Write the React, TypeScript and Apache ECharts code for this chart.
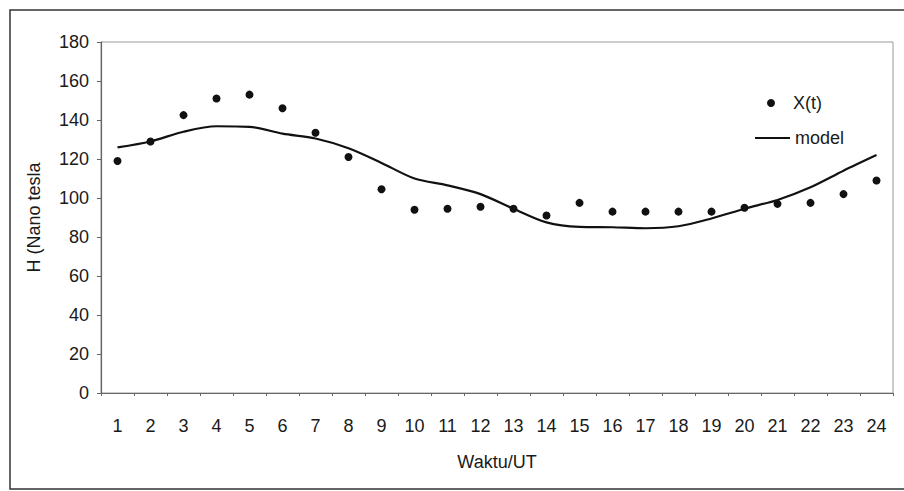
import React, { useEffect, useRef } from "react";
import * as echarts from "echarts";

const hours = ["1","2","3","4","5","6","7","8","9","10","11","12","13","14","15","16","17","18","19","20","21","22","23","24"];
const observed = [119, 129, 142.5, 151, 153, 146, 133.5, 121, 104.5, 94, 94.5, 95.5, 94.5, 91, 97.5, 93, 93, 93, 93, 95, 97, 97.5, 102, 109];
const model = [126, 129, 134, 136.8, 136.5, 133, 130.5, 125.5, 118, 110, 106.5, 102, 94.5, 87.5, 85.2, 85, 84.5, 85.5, 89.5, 94.5, 99, 105.5, 114, 122];

const FONT = "'Liberation Sans', Arial, sans-serif";
const TXT = "#1a1a1a";

export default function App() {
  const ref = useRef<HTMLDivElement>(null);
  useEffect(() => {
    if (!ref.current) return;
    const chart = echarts.init(ref.current, null, { renderer: "svg" });
    chart.setOption({
      animation: false,
      backgroundColor: "#ffffff",
      textStyle: { fontFamily: FONT, color: TXT },
      graphic: [
        {
          type: "rect",
          shape: { x: 10, y: 10, width: 905, height: 479 },
          style: { fill: "none", stroke: "#333", lineWidth: 1.5 },
          silent: true,
        },
      ],
      grid: {
        left: 101,
        right: 11,
        top: 42,
        bottom: 98,
        show: true,
        borderColor: "#9a9a9a",
        borderWidth: 1,
        backgroundColor: "transparent",
      },
      legend: [
        {
          data: [{ name: "X(t)", icon: "circle" }],
          left: 762,
          top: 89,
          itemWidth: 8,
          itemHeight: 8,
          itemGap: 5,
          textStyle: { fontSize: 18, color: TXT, fontFamily: FONT, padding: [0, 0, 0, 13] },
        },
        {
          data: [{ name: "model", icon: "rect" }],
          left: 750,
          top: 124,
          itemWidth: 35,
          itemHeight: 2,
          itemGap: 5,
          textStyle: { fontSize: 18, color: TXT, fontFamily: FONT },
        },
      ],
      xAxis: {
        type: "category",
        data: hours,
        boundaryGap: true,
        name: "Waktu/UT",
        nameLocation: "middle",
        nameGap: 60,
        nameTextStyle: { fontSize: 18, color: TXT, fontFamily: FONT },
        axisLine: { lineStyle: { color: "#666", width: 1.2 } },
        axisTick: { show: true, length: 3, lineStyle: { color: "#666" } },
        axisLabel: { fontSize: 18, color: TXT, margin: 24, fontFamily: FONT },
        splitLine: { show: false },
      },
      yAxis: {
        type: "value",
        min: 0,
        max: 180,
        interval: 20,
        name: "H (Nano tesla",
        nameLocation: "middle",
        nameGap: 58,
        nameTextStyle: { fontSize: 18, color: TXT, fontFamily: FONT },
        axisLine: { show: true, lineStyle: { color: "#666", width: 1.2 } },
        axisTick: { show: true, length: 4, lineStyle: { color: "#666" } },
        axisLabel: { fontSize: 18, color: TXT, margin: 12, fontFamily: FONT },
        splitLine: { show: false },
      },
      series: [
        {
          name: "X(t)",
          type: "scatter",
          data: observed,
          symbol: "circle",
          symbolSize: 8,
          itemStyle: { color: "#111", opacity: 1 },
        },
        {
          name: "model",
          type: "line",
          data: model,
          smooth: 0.3,
          symbol: "none",
          lineStyle: { color: "#111", width: 2.2 },
          itemStyle: { color: "#111" },
        },
      ],
    });
    return () => chart.dispose();
  }, []);
  return (
    <div
      ref={ref}
      style={{ position: "fixed", left: 0, top: 0, width: 904, height: 491, background: "#fff" }}
    />
  );
}
